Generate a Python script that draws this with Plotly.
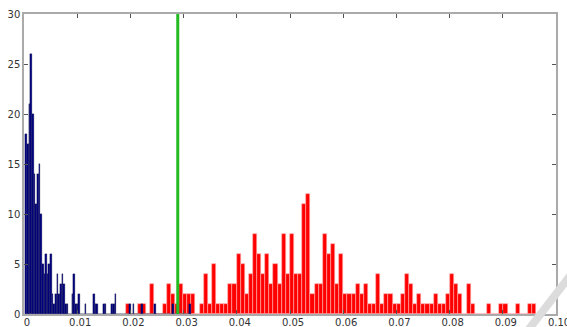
import numpy as np
import plotly.graph_objects as go

# ---- data ----
blue_start = 0.00025
blue_end = 0.0313
blue_counts = [
    18, 17, 21, 26, 20, 14, 11, 14, 15, 10,
    5, 4, 6, 4, 5, 6, 2, 1, 2, 4,
    2, 3, 4, 3, 1, 1, 0, 0, 2, 4,
    1, 1, 2, 0, 0, 0, 1, 0, 0, 0,
    0, 2, 1, 1, 0, 0, 0, 1, 1, 0,
    0, 0, 1, 1, 2, 0, 0, 0, 0, 0,
    0, 0, 0, 1, 0, 1, 0, 0, 0, 0,
    1, 0, 0, 0, 0, 0, 0, 0, 1, 0,
    0, 0, 0, 0, 0, 0, 0, 0, 0, 1,
    0, 0, 1, 0, 0, 0, 0, 0, 0, 1,
]

red_start = 0.0191
red_end = 0.0963
red_counts = [
    1, 0, 0, 1, 1, 0, 3, 0, 0, 1,
    3, 2, 1, 3, 2, 2, 2, 0, 1, 4,
    1, 5, 1, 1, 1, 3, 3, 6, 5, 2,
    4, 8, 6, 4, 6, 3, 5, 3, 8, 4,
    8, 4, 4, 11, 12, 2, 3, 3, 8, 6,
    7, 3, 6, 2, 2, 2, 3, 2, 3, 1,
    1, 4, 1, 2, 2, 1, 1, 2, 4, 3,
    1, 2, 1, 1, 1, 2, 1, 1, 2, 4,
    3, 2, 0, 3, 1, 0, 0, 0, 1, 0,
    0, 1, 1, 0, 0, 1, 0, 0, 1, 1,
]

threshold = 0.0289

x_tick_vals = [0, 0.01, 0.02, 0.03, 0.04, 0.05, 0.06, 0.07, 0.08, 0.09, 0.10]
x_tick_text = ["0", "0.01", "0.02", "0.03", "0.04", "0.05", "0.06", "0.07", "0.08", "0.09", "0.10"]
y_tick_vals = [0, 5, 10, 15, 20, 25, 30]


def centers(start, end, n):
    edges = np.linspace(start, end, n + 1)
    return (edges[:-1] + edges[1:]) / 2, edges[1] - edges[0]


rx, rw = centers(red_start, red_end, len(red_counts))
bx, bw = centers(blue_start, blue_end, len(blue_counts))

fig = go.Figure()
fig.add_trace(go.Bar(
    x=rx, y=red_counts, width=rw,
    marker=dict(color="#ff0000", line=dict(color="#ffb0b0", width=0.6)),
    showlegend=False,
))
fig.add_trace(go.Bar(
    x=bx, y=blue_counts, width=bw,
    marker=dict(color="#000080", line=dict(color="#202040", width=0.3)),
    showlegend=False,
))
fig.add_trace(go.Scatter(
    x=[threshold, threshold], y=[0, 30], mode="lines",
    line=dict(color="#22bb22", width=3), showlegend=False,
))

axis_common = dict(
    showline=True, linecolor="#aaaaaa", linewidth=1.5, mirror="allticks",
    ticks="inside", ticklen=4, tickwidth=1, tickcolor="#555555",
    showgrid=False, zeroline=False, automargin=False,
    ticklabeloverflow="allow",
    tickfont=dict(family="DejaVu Sans", size=10, color="#333333"),
)

fig.update_layout(
    width=567, height=327,
    margin=dict(l=24, r=10.5, t=14, b=13, autoexpand=False),
    paper_bgcolor="white", plot_bgcolor="white",
    barmode="overlay", bargap=0,
    xaxis=dict(range=[0, 0.1], tickvals=x_tick_vals, ticktext=x_tick_text,
               ticklabelshift=3, ticklabelstandoff=-2, **axis_common),
    yaxis=dict(range=[0, 30], tickvals=y_tick_vals, **axis_common),
    shapes=[dict(
        type="line", xref="paper", yref="paper",
        x0=(528 - 24) / 532.5, y0=(314 - 331) / 300,
        x1=(572 - 24) / 532.5, y1=(314 - 274) / 300,
        line=dict(color="#dcdcdc", width=8), layer="above",
    )],
)

fig.write_html(
    "out.html",
    config={"displayModeBar": False},
    post_script="document.body.style.margin='0';document.body.style.overflow='hidden';",
)
